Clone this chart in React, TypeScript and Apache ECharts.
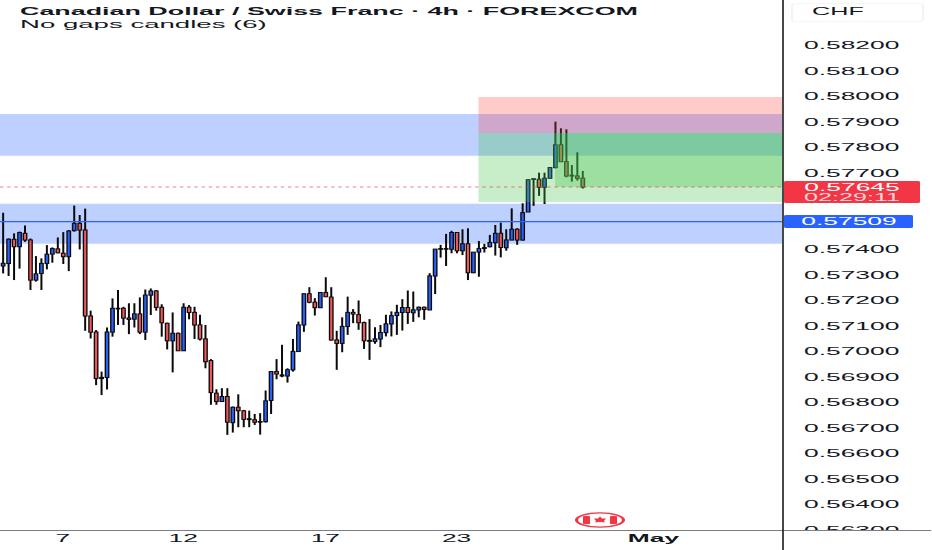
import React, { useEffect, useRef } from "react";
import * as echarts from "echarts";

// The reference picture is stretched horizontally: the chart is laid out narrow and widened with a CSS transform.
const STRETCH = 2.4;
const WIDTH = 932;
const HEIGHT = 550;
const px = (v: number) => v / STRETCH;

const titleText = "Canadian Dollar / Swiss Franc · 4h · FOREXCOM";
const subtitleText = "No gaps candles (6)";
const currencyText = "CHF";
const lastPriceText = "0.57645";
const countdownText = "02:29:11";
const lineLevelText = "0.57509";

const lastPrice = 0.57645;
const lineLevel = 0.57509;

const categoryCount = 143;
const dateTicks: Record<number, string> = { 11: "7", 33: "12", 59: "17", 83: "23", 119: "May" };

const priceTicks = [
  "0.58200", "0.58100", "0.58000", "0.57900", "0.57800", "0.57700", "0.57400", "0.57300", "0.57200",
  "0.57100", "0.57000", "0.56900", "0.56800", "0.56700", "0.56600", "0.56500", "0.56400", "0.56300",
];

// open, close, low, high in 1/100000 of a franc
const ohlc = [
  [57335, 57345, 57306, 57544], [57345, 57440, 57296, 57443], [57440, 57411, 57280, 57463], [57411, 57466, 57325, 57470],
  [57463, 57437, 57430, 57494], [57437, 57280, 57241, 57443], [57280, 57304, 57274, 57374], [57306, 57345, 57241, 57365],
  [57345, 57381, 57322, 57417], [57382, 57403, 57348, 57408], [57402, 57387, 57385, 57447], [57385, 57372, 57343, 57468],
  [57372, 57472, 57315, 57476], [57474, 57502, 57470, 57572], [57502, 57476, 57400, 57535], [57476, 57139, 57081, 57560],
  [57139, 57076, 57051, 57160], [57076, 56894, 56868, 57084], [56894, 56898, 56829, 56921], [56898, 57076, 56851, 57094],
  [57076, 57169, 57058, 57208], [57169, 57167, 57104, 57241], [57169, 57131, 57104, 57175], [57131, 57126, 57068, 57189],
  [57127, 57147, 57094, 57189], [57147, 57076, 57068, 57212], [57076, 57221, 57045, 57243], [57221, 57237, 57143, 57247],
  [57237, 57173, 57160, 57241], [57173, 57113, 57058, 57185], [57110, 57042, 57008, 57113], [57042, 57071, 56918, 57153],
  [57071, 57003, 57003, 57074], [57003, 57173, 57003, 57189], [57173, 57153, 57126, 57182], [57153, 57104, 57049, 57175],
  [57104, 57049, 57043, 57144], [57049, 56960, 56934, 57104], [56964, 56839, 56791, 56970], [56836, 56804, 56791, 56852],
  [56804, 56823, 56804, 56856], [56823, 56723, 56673, 56856], [56721, 56781, 56682, 56784], [56781, 56768, 56703, 56832],
  [56767, 56734, 56703, 56771], [56736, 56733, 56703, 56768], [56732, 56723, 56712, 56755], [56725, 56723, 56674, 56758],
  [56725, 56806, 56721, 56847], [56808, 56921, 56755, 56921], [56921, 56912, 56891, 56970], [56908, 56904, 56899, 57026],
  [56904, 56928, 56878, 56934], [56928, 57000, 56921, 57049], [57000, 57104, 57000, 57117], [57104, 57226, 57077, 57228],
  [57226, 57193, 57189, 57252], [57193, 57172, 57141, 57209], [57172, 57231, 57170, 57231], [57231, 57215, 57213, 57291],
  [57213, 57045, 57043, 57252], [57045, 57032, 56928, 57081], [57032, 57098, 56997, 57134], [57098, 57153, 57065, 57215],
  [57153, 57147, 57111, 57166], [57144, 57113, 57085, 57200], [57113, 57042, 57010, 57117], [57043, 57040, 56967, 57127],
  [57039, 57049, 57030, 57095], [57049, 57074, 57017, 57104], [57074, 57108, 57059, 57144], [57108, 57140, 57059, 57157],
  [57141, 57153, 57065, 57183], [57153, 57172, 57082, 57205], [57172, 57153, 57108, 57239], [57152, 57163, 57116, 57235],
  [57163, 57173, 57134, 57176], [57173, 57165, 57124, 57176], [57163, 57296, 57163, 57307], [57296, 57401, 57225, 57401],
  [57401, 57403, 57368, 57418], [57403, 57401, 57335, 57461], [57401, 57466, 57385, 57473], [57466, 57395, 57385, 57466],
  [57395, 57422, 57378, 57479], [57422, 57309, 57280, 57483], [57309, 57389, 57307, 57389], [57390, 57403, 57293, 57433],
  [57404, 57407, 57388, 57422], [57411, 57427, 57408, 57457], [57427, 57463, 57376, 57496], [57463, 57408, 57369, 57505],
  [57407, 57437, 57395, 57479], [57437, 57479, 57437, 57561], [57479, 57437, 57418, 57483], [57437, 57544, 57435, 57581],
  [57547, 57673, 57547, 57675], [57675, 57677, 57571, 57678], [57675, 57644, 57610, 57701], [57644, 57679, 57578, 57701],
  [57679, 57721, 57679, 57722], [57721, 57810, 57718, 57901], [57810, 57744, 57744, 57875], [57744, 57688, 57683, 57871],
  [57688, 57691, 57666, 57731], [57688, 57679, 57670, 57781], [57679, 57645, 57639, 57708],
];

// price bands: index of the first candle (-1: from the left edge), lower, upper
const supplyZone = [-1, 0.57767, 0.57931];
const demandZone = [-1, 0.57422, 0.57579];
const stopBox = [87, 0.57857, 0.57998];
const targetBox = [87, 0.57586, 0.57857];
const openProfitBox = [101, 0.57645, 0.57857];

const BLUE = "#2962ff";
const RED = "#f0575c";
const TEXT = "#131722";
const FONT = "'Liberation Sans', Arial, sans-serif";

const bandSeries = (name: string, band: number[], color: string, z: number) => ({
  type: "custom",
  name,
  z,
  silent: true,
  clip: true,
  data: [[Math.max(band[0], 0), band[1], band[2]]],
  encode: { x: 0, y: [1, 2] },
  renderItem: (params: any, api: any) => {
    const cs = params.coordSys;
    const x0 = band[0] < 0 ? cs.x : api.coord([api.value(0), 0])[0];
    const yTop = api.coord([0, api.value(2)])[1];
    const yBottom = api.coord([0, api.value(1)])[1];
    return {
      type: "rect",
      shape: { x: x0, y: yTop, width: cs.x + cs.width - x0, height: yBottom - yTop },
      style: { fill: color },
    };
  },
});

const levelSeries = (name: string, level: number, style: object, z: number) => ({
  type: "custom",
  name,
  z,
  silent: true,
  data: [[0, level]],
  encode: { x: 0, y: 1 },
  renderItem: (params: any, api: any) => {
    const cs = params.coordSys;
    const y = api.coord([0, api.value(1)])[1];
    return { type: "line", shape: { x1: cs.x, y1: y, x2: cs.x + cs.width, y2: y }, style };
  },
});

const candleData = ohlc.map((row, i) => [i, row[0] / 1e5, row[1] / 1e5, row[2] / 1e5, row[3] / 1e5]);

const renderCandle = (_params: any, api: any) => {
  const i = api.value(0);
  const open = api.value(1);
  const close = api.value(2);
  const x = api.coord([i, open])[0] + px(0.4);
  const band = api.size([1, 0])[0];
  const w = band * 0.88;
  const yO = api.coord([i, open])[1];
  const yC = api.coord([i, close])[1];
  const yL = api.coord([i, api.value(3)])[1];
  const yH = api.coord([i, api.value(4)])[1];
  const top = Math.min(yO, yC) - 0.6;
  const h = Math.abs(yO - yC) + 1.2;
  const inset = px(1.35);
  const children: any[] = [
    { type: "rect", shape: { x: x - px(1), y: yH, width: px(2), height: yL - yH }, style: { fill: "#0a0a0a" } },
    { type: "rect", shape: { x: x - w / 2, y: top, width: w, height: h }, style: { fill: "#0a0a0a" } },
  ];
  if (h > 2.4) {
    children.push({
      type: "rect",
      shape: { x: x - w / 2 + inset, y: top + 1, width: w - 2 * inset, height: h - 2 },
      style: { fill: close >= open ? BLUE : RED },
    });
  }
  return { type: "group", children };
};

export default function App() {
  const ref = useRef<HTMLDivElement>(null);

  useEffect(() => {
    const chart = echarts.init(ref.current!, null, { renderer: "svg", width: px(WIDTH), height: HEIGHT });
    const axisX = px(783);
    chart.setOption({
      animation: false,
      backgroundColor: "#ffffff",
      grid: { left: 0, top: 0, width: px(782), height: 530, containLabel: false, outerBoundsMode: "none" },
      xAxis: {
        type: "category",
        data: Array.from({ length: categoryCount }, (_, i) => String(i)),
        axisLine: { show: true, lineStyle: { color: "#7b7e86", width: 1 } },
        axisTick: { show: false },
        splitLine: { show: false },
        axisLabel: {
          interval: 0,
          margin: 3,
          fontFamily: FONT,
          fontSize: 11,
          color: TEXT,
          formatter: (_v: string, i: number) => {
            const t = dateTicks[i];
            if (!t) return "";
            return t === "May" ? `{b|${t}}` : t;
          },
          rich: { b: { fontFamily: FONT, fontSize: 11, fontWeight: "bold", color: TEXT } },
        },
      },
      yAxis: {
        type: "value",
        position: "right",
        min: 0.563,
        max: 0.58378,
        interval: 0.001,
        axisLine: { show: false },
        axisTick: { show: false },
        splitLine: { show: false },
        axisLabel: {
          margin: px(22),
          fontFamily: FONT,
          fontSize: 11,
          color: TEXT,
          formatter: (v: number) => {
            const s = v.toFixed(5);
            return priceTicks.includes(s) ? s : "";
          },
          showMinLabel: true,
          showMaxLabel: false,
        },
      },
      series: [
        bandSeries("supply zone", supplyZone, "rgba(41,98,255,0.3)", 1),
        bandSeries("demand zone", demandZone, "rgba(41,98,255,0.3)", 1),
        {
          type: "custom",
          name: "CAD/CHF",
          z: 2,
          data: candleData,
          encode: { x: 0, y: [1, 2, 3, 4] },
          renderItem: renderCandle,
          clip: true,
        },
        bandSeries("stop box", stopBox, "rgba(255,60,60,0.27)", 3),
        bandSeries("target box", targetBox, "rgba(70,195,75,0.3)", 3),
        bandSeries("open profit box", openProfitBox, "rgba(70,195,75,0.33)", 3),
        levelSeries("last price", lastPrice, { stroke: "rgba(242,54,69,0.65)", lineWidth: 1, lineDash: [1.4, 1.6] }, 4),
        levelSeries("line level", lineLevel, { stroke: BLUE, lineWidth: 1.3 }, 4),
      ],
      graphic: [
        { type: "rect", z: 50, silent: true, shape: { x: px(784), y: 531, width: px(148), height: 19 }, style: { fill: "#ffffff" } },
        { type: "line", z: 51, silent: true, shape: { x1: 0, y1: 530.5, x2: px(WIDTH), y2: 530.5 }, style: { stroke: "#7b7e86", lineWidth: 1 } },
        { type: "line", z: 52, silent: true, shape: { x1: axisX, y1: 0, x2: axisX, y2: HEIGHT }, style: { stroke: "#1a1a1a", lineWidth: px(1.6) } },
        { type: "text", z: 53, x: px(20), y: 5, style: { text: titleText, fontFamily: FONT, fontSize: 11.2, fontWeight: "bold", fill: TEXT } },
        { type: "text", z: 53, x: px(20), y: 18, style: { text: subtitleText, fontFamily: FONT, fontSize: 11.5, fill: TEXT } },
        { type: "rect", z: 50, shape: { x: px(792), y: 3.5, width: px(131), height: 18, r: 2 }, style: { fill: "#ffffff", stroke: "#eceef2", lineWidth: 0.6 } },
        { type: "text", z: 53, x: px(838), y: 11.5, style: { text: currencyText, fontFamily: FONT, fontSize: 10.5, fill: TEXT, align: "center", verticalAlign: "middle" } },
        { type: "rect", z: 53, shape: { x: px(784), y: 181, width: px(136), height: 22, r: 1 }, style: { fill: "#f23645" } },
        { type: "text", z: 54, x: px(852), y: 187.5, style: { text: lastPriceText, fontFamily: FONT, fontSize: 11, fill: "#ffffff", align: "center", verticalAlign: "middle" } },
        { type: "text", z: 54, x: px(852), y: 197.5, style: { text: countdownText, fontFamily: FONT, fontSize: 10.5, fill: "#ffd7da", align: "center", verticalAlign: "middle" } },
        { type: "rect", z: 53, shape: { x: px(784), y: 215, width: px(129), height: 13, r: 1 }, style: { fill: BLUE } },
        { type: "text", z: 54, x: px(849), y: 221.5, style: { text: lineLevelText, fontFamily: FONT, fontSize: 11, fill: "#ffffff", align: "center", verticalAlign: "middle" } },
        // Canada event badge
        { type: "ellipse", z: 54, shape: { cx: px(600), cy: 520, rx: px(23.5), ry: 7.2 }, style: { fill: "#ffffff", stroke: "#f23645", lineWidth: 1.3 } },
        { type: "rect", z: 55, shape: { x: px(583), y: 516, width: px(7), height: 8, r: 0.5 }, style: { fill: "#f23645" } },
        { type: "rect", z: 55, shape: { x: px(610), y: 516, width: px(7), height: 8, r: 0.5 }, style: { fill: "#f23645" } },
        {
          type: "polygon", z: 55,
          shape: { points: [[px(600), 516.5], [px(602), 518.5], [px(606), 518.5], [px(604), 521], [px(605), 522.5], [px(601), 522], [px(599), 522], [px(595), 522.5], [px(596), 521], [px(594), 518.5], [px(598), 518.5]] },
          style: { fill: "#f23645" },
        },
      ],
    });
    return () => chart.dispose();
  }, []);

  return (
    <div
      ref={ref}
      style={{
        position: "absolute",
        left: 0,
        top: 0,
        width: px(WIDTH),
        height: HEIGHT,
        transform: `scaleX(${STRETCH})`,
        transformOrigin: "0 0",
      }}
    />
  );
}
